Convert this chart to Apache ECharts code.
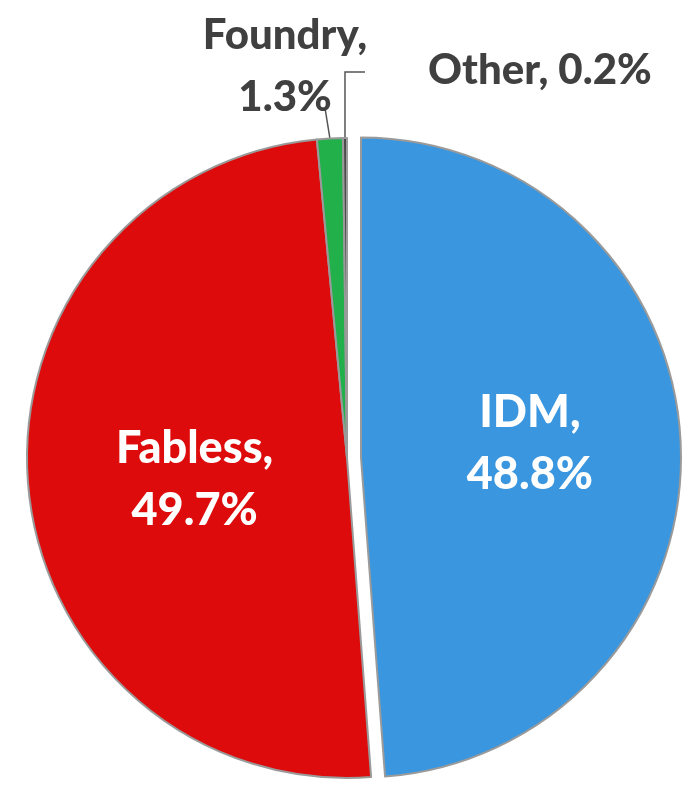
<!DOCTYPE html>
<html>
<head>
<meta charset="utf-8">
<script src="https://cdn.jsdelivr.net/npm/echarts@6/dist/echarts.min.js"></script>
<style>
html,body{margin:0;padding:0;background:#fff;}
#chart{width:689px;height:787px;}
</style>
</head>
<body>
<div id="chart"></div>
<script>
const categories = ['IDM', 'Fabless', 'Foundry', 'Other'];
const shares = [48.8, 49.7, 1.3, 0.2];
const colors = ['#3a96de', '#dd0b0b', '#22b04b', '#4a4a4a'];

const chart = echarts.init(document.getElementById('chart'), null, {renderer: 'canvas'});
const font = 'Lato';
const outsideLabel = {
  show: true, position: 'outside', color: '#404040', fontFamily: font,
  fontWeight: 900, fontSize: 42, lineHeight: 62
};
const data = categories.map((name, i) => {
  const item = {
    name: name, value: shares[i],
    itemStyle: {color: colors[i]}
  };
  if (i === 0) item.selected = true;
  if (i >= 2) {
    item.label = outsideLabel;
    item.labelLine = {show: true, length: 40, length2: 20, lineStyle: {color: '#555', width: 1.5}};
  }
  return item;
});

chart.setOption({
  animation: false,
  backgroundColor: '#ffffff',
  series: [{
    type: 'pie',
    center: [347, 458],
    radius: [0, 320],
    startAngle: 90,
    clockwise: true,
    selectedMode: 'single',
    selectedOffset: 14,
    avoidLabelOverlap: false,
    itemStyle: {borderColor: '#9a9a9a', borderWidth: 2},
    emphasis: {disabled: true},
    label: {
      show: true, position: 'inside', color: '#ffffff', fontFamily: font,
      fontWeight: 900, fontSize: 45, lineHeight: 62,
      formatter: p => p.dataIndex === 3 ? p.name + ', ' + p.value + '%' : p.name + ',\n' + p.value + '%'
    },
    labelLine: {show: false},
    labelLayout: function (params) {
      const pts = params.labelLinePoints;
      if (params.dataIndex === 2 && pts) {
        const a = pts[0];
        return {x: 285, y: 66, align: 'center', verticalAlign: 'middle',
          labelLinePoints: [a, [325, 108], [325, 108]]};
      }
      if (params.dataIndex === 3 && pts) {
        const a = pts[0];
        return {x: 428, y: 70, align: 'left', verticalAlign: 'middle',
          labelLinePoints: [a, [a[0], 72], [a[0] + 20, 72]]};
      }
      if (params.dataIndex === 1) {
        return {dx: 10, dy: 8};
      }
      if (params.dataIndex === 0) {
        return {dx: 6, dy: -8};
      }
      return {};
    },
    data: data
  }]
});
</script>
</body>
</html>
